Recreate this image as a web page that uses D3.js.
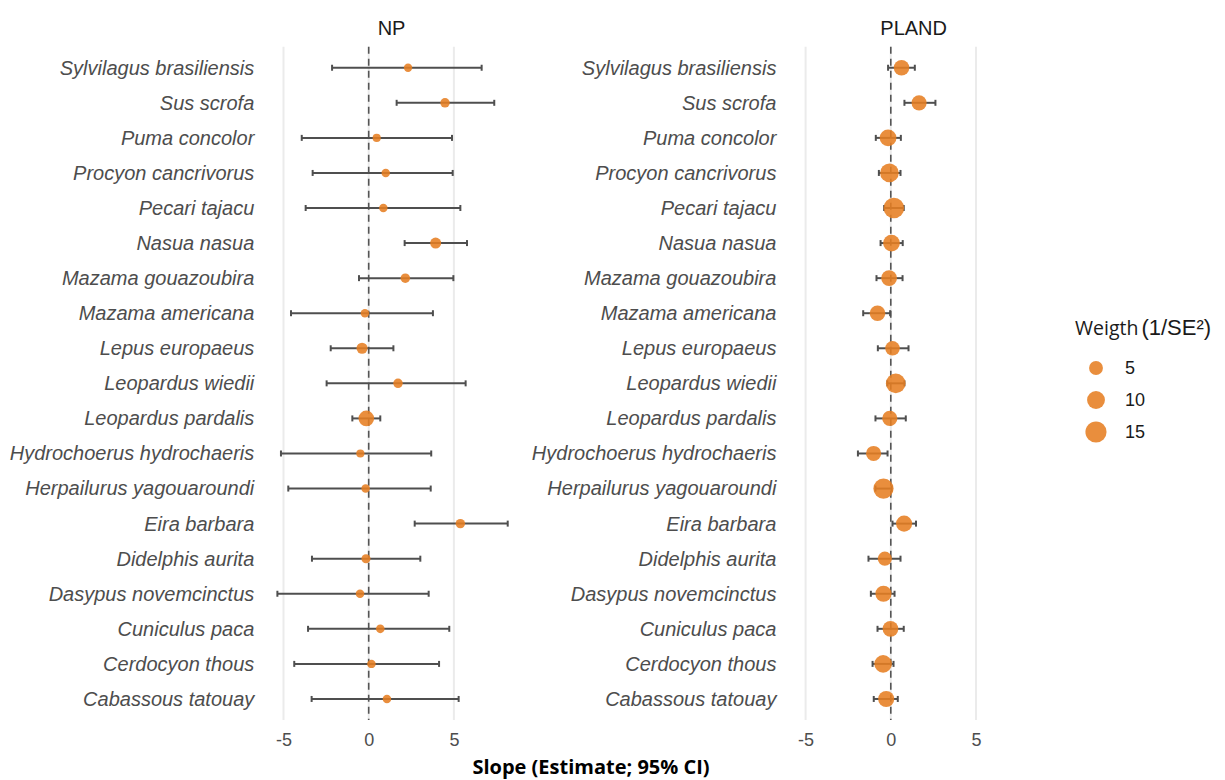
<!DOCTYPE html>
<html>
<head>
<meta charset="utf-8">
<script src="https://cdn.jsdelivr.net/npm/d3@7"></script>
<style>
  html, body { margin: 0; padding: 0; background: #fff; }
  svg { display: block; }
</style>
</head>
<body>
<svg id="chart" width="1225" height="780"></svg>
<script>
// ---- data ----
const species = [
  "Sylvilagus brasiliensis", "Sus scrofa", "Puma concolor", "Procyon cancrivorus",
  "Pecari tajacu", "Nasua nasua", "Mazama gouazoubira", "Mazama americana",
  "Lepus europaeus", "Leopardus wiedii", "Leopardus pardalis", "Hydrochoerus hydrochaeris",
  "Herpailurus yagouaroundi", "Eira barbara", "Didelphis aurita", "Dasypus novemcinctus",
  "Cuniculus paca", "Cerdocyon thous", "Cabassous tatouay"
];
const panels = ["NP", "PLAND"];

const npEst = [2.31, 4.48, 0.47, 1.00, 0.86, 3.93, 2.15, -0.22, -0.39, 1.72, -0.14, -0.49, -0.18, 5.38, -0.16, -0.51, 0.68, 0.16, 1.07];
const npLo  = [-2.15, 1.64, -3.93, -3.29, -3.70, 2.11, -0.57, -4.56, -2.23, -2.47, -0.96, -5.15, -4.72, 2.70, -3.33, -5.36, -3.56, -4.37, -3.35];
const npHi  = [6.63, 7.37, 4.89, 4.93, 5.38, 5.77, 4.97, 3.77, 1.45, 5.69, 0.68, 3.67, 3.64, 8.16, 3.03, 3.52, 4.73, 4.13, 5.28];
const npW   = [0.2, 1.0, 0.1, 0.3, 0.3, 2.3, 1.0, 0.3, 2.3, 1.0, 7.0, 0.1, 0.3, 1.0, 0.7, 0.3, 0.4, 0.3, 0.3];

const plEst = [0.63, 1.66, -0.16, -0.08, 0.18, 0.04, -0.10, -0.78, 0.10, 0.29, -0.06, -1.01, -0.43, 0.78, -0.35, -0.43, -0.02, -0.45, -0.27];
const plLo  = [-0.16, 0.80, -0.88, -0.70, -0.39, -0.60, -0.84, -1.62, -0.76, -0.20, -0.90, -1.93, -0.90, 0.10, -1.31, -1.17, -0.78, -1.07, -1.00];
const plHi  = [1.41, 2.62, 0.59, 0.57, 0.76, 0.70, 0.69, -0.04, 1.04, 0.80, 0.88, -0.19, 0.05, 1.48, 0.57, 0.22, 0.76, 0.16, 0.41];
const plW   = [7.0, 6.5, 8.5, 11.1, 14.2, 8.5, 7.2, 7.0, 5.8, 12.6, 6.5, 6.5, 13.5, 7.7, 5.3, 7.7, 7.2, 9.6, 7.7];

const xTicks = [-5, 0, 5];
const legendBreaks = [5, 10, 15];
const xDomain = [-6.04, 8.84];

// ---- style ----
const ORANGE = "#E67E22";
const BAR = "#4f4f4f";
const LABEL = "#4d4d4d";

const svg = d3.select("#chart");
const plotTop = 46.7, plotBottom = 720;
const panelW = 253.5;
const panelLeft = { NP: 265.8, PLAND: 787.9 };

const y = d3.scalePoint().domain(species).range([plotTop, plotBottom]).padding(0.6);
// size: area linear in weight
const r2 = d3.scaleLinear().domain([0, 15]).range([16, 16 + 6.4 * 15]);
const radius = w => Math.sqrt(r2(w));

const dataByPanel = {
  NP: species.map((s, i) => ({ s, est: npEst[i], lo: npLo[i], hi: npHi[i], w: npW[i] })),
  PLAND: species.map((s, i) => ({ s, est: plEst[i], lo: plLo[i], hi: plHi[i], w: plW[i] }))
};

panels.forEach(p => {
  const x = d3.scaleLinear().domain(xDomain).range([panelLeft[p], panelLeft[p] + panelW]);
  const g = svg.append("g");

  // gridlines
  g.selectAll("line.grid").data(xTicks).join("line")
    .attr("x1", d => x(d)).attr("x2", d => x(d))
    .attr("y1", plotTop).attr("y2", plotBottom)
    .attr("stroke", "#ebebeb").attr("stroke-width", 2);

  // reference line at 0
  g.append("line")
    .attr("x1", x(0)).attr("x2", x(0)).attr("y1", plotTop).attr("y2", plotBottom)
    .attr("stroke", "#555").attr("stroke-width", 1.6).attr("stroke-dasharray", "7,5");

  const data = dataByPanel[p];
  // error bars
  g.selectAll("line.eb").data(data).join("line")
    .attr("x1", d => x(d.lo)).attr("x2", d => x(d.hi))
    .attr("y1", d => y(d.s)).attr("y2", d => y(d.s))
    .attr("stroke", BAR).attr("stroke-width", 2);
  ["lo", "hi"].forEach(k => {
    g.selectAll("line.cap" + k).data(data).join("line")
      .attr("x1", d => x(d[k])).attr("x2", d => x(d[k]))
      .attr("y1", d => y(d.s) - 3).attr("y2", d => y(d.s) + 3)
      .attr("stroke", BAR).attr("stroke-width", 2);
  });
  // points
  g.selectAll("circle").data(data).join("circle")
    .attr("cx", d => x(d.est)).attr("cy", d => y(d.s))
    .attr("r", d => radius(d.w))
    .attr("fill", ORANGE).attr("fill-opacity", 0.88);

  // y axis
  const ya = svg.append("g").attr("transform", `translate(${panelLeft[p]},0)`)
    .call(d3.axisLeft(y).tickSize(0).tickPadding(11.5));
  ya.select(".domain").remove();
  ya.selectAll("text").attr("font-family", "'Liberation Sans', Arial, sans-serif")
    .attr("font-style", "italic").attr("font-size", 20).attr("fill", LABEL);

  // x axis
  const xa = svg.append("g").attr("transform", `translate(0,${plotBottom})`)
    .call(d3.axisBottom(x).tickValues(xTicks).tickFormat(d => String(d)).tickSize(0).tickPadding(13));
  xa.select(".domain").remove();
  xa.selectAll("text").attr("font-family", "'Liberation Sans', Arial, sans-serif")
    .attr("font-size", 18).attr("fill", LABEL);

  // strip title
  svg.append("text").attr("x", panelLeft[p] + panelW / 2 - 1).attr("y", 34.5)
    .attr("text-anchor", "middle")
    .attr("font-family", "'Liberation Sans', Arial, sans-serif").attr("font-size", 20)
    .attr("fill", "#1a1a1a").text(p);
});

// x axis title
svg.append("text").attr("x", 591).attr("y", 774).attr("text-anchor", "middle")
  .attr("font-family", "'Open Sans', sans-serif").attr("font-weight", "bold")
  .attr("font-size", 20).attr("fill", "#000").text("Slope (Estimate; 95% CI)");

// legend
const lt = svg.append("text").attr("x", 1075).attr("y", 335).attr("fill", "#1a1a1a");
lt.append("tspan").attr("font-family", "'Open Sans', sans-serif").attr("font-size", 19.5).text("Weigth");
lt.append("tspan").attr("dx", 3).attr("font-family", "'Liberation Sans', Arial, sans-serif").attr("font-size", 22).text("(1/SE²)");

const legY = d3.scalePoint().domain(legendBreaks).range([368, 432]);
const lg = svg.append("g");
lg.selectAll("circle").data(legendBreaks).join("circle")
  .attr("cx", 1096).attr("cy", d => legY(d)).attr("r", d => radius(d))
  .attr("fill", ORANGE).attr("fill-opacity", 0.88);
lg.selectAll("text").data(legendBreaks).join("text")
  .attr("x", 1125).attr("y", d => legY(d)).attr("dy", "0.36em")
  .attr("font-family", "'Liberation Sans', Arial, sans-serif").attr("font-size", 18)
  .attr("fill", "#1a1a1a").text(d => d);
</script>
</body>
</html>
